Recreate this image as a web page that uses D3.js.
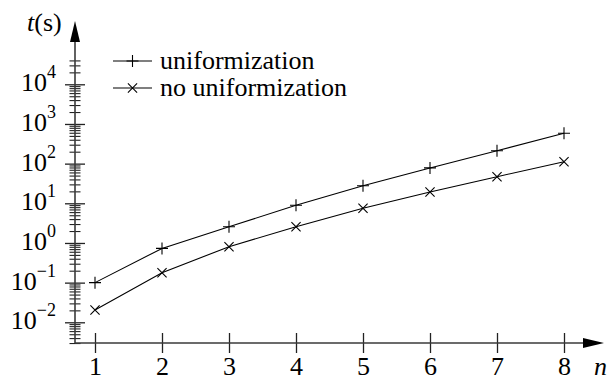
<!DOCTYPE html>
<html>
<head>
<meta charset="utf-8">
<script src="https://cdn.jsdelivr.net/npm/d3@7"></script>
<style>
  html, body { margin: 0; padding: 0; background: #fff; }
  svg { display: block; }
</style>
</head>
<body>
<svg id="chart" width="615" height="381"></svg>
<script>
// ---- data ----
const nValues = [1, 2, 3, 4, 5, 6, 7, 8];
const uniformization = [0.1, 0.73, 2.57, 8.9, 27.7, 78, 212, 581];
const noUniformization = [0.0204, 0.178, 0.805, 2.57, 7.5, 19.3, 46.8, 112];
const seriesNames = ["uniformization", "no uniformization"];
const yMajorExponents = [-2, -1, 0, 1, 2, 3, 4];
const xTickLabels = ["1", "2", "3", "4", "5", "6", "7", "8"];

// ---- layout ----
const FONT = "'Liberation Serif', 'Times New Roman', serif";
const svg = d3.select("#chart");
const axisX0 = 75, axisY0 = 343;
const x = d3.scaleLinear().domain([1, 8]).range([95, 564]);
const y = d3.scaleLog().domain([1e-2, 1e4]).range([322.3, 84.3]);
const axisColor = "#3a3a3a";

function txt(sel, size) {
  return sel.style("font-family", FONT).style("font-size", size + "px").attr("fill", "#000");
}

// minor tick values
const yMinor = [];
for (let k = -3; k <= 4; k++) {
  for (let m = 2; m <= 9; m++) {
    const v = m * Math.pow(10, k);
    if (v >= 0.003 && v <= 4.2e4) yMinor.push(v);
  }
}

// y axis: minor ticks
const gMinor = svg.append("g").attr("transform", `translate(${axisX0},0)`)
  .call(d3.axisLeft(y).tickValues(yMinor).tickFormat("").tickSizeOuter(0).tickSizeInner(5.5));
gMinor.select(".domain").remove();
gMinor.selectAll(".tick line").attr("x1", -5.5).attr("x2", 5.5)
  .attr("stroke", "#222").attr("stroke-width", 1.1);

// y axis: major ticks
const gMajor = svg.append("g").attr("transform", `translate(${axisX0},0)`)
  .call(d3.axisLeft(y).tickValues(yMajorExponents.map(e => Math.pow(10, e)))
    .tickFormat("").tickSizeOuter(0).tickSizeInner(10));
gMajor.select(".domain").remove();
gMajor.selectAll(".tick line").attr("x1", -10).attr("x2", 10)
  .attr("stroke", "#222").attr("stroke-width", 1.3);

// major labels with superscripts
const labG = svg.append("g");
yMajorExponents.forEach(e => {
  const t = txt(labG.append("text"), 26)
    .attr("x", 56).attr("y", y(Math.pow(10, e)) + 7)
    .attr("text-anchor", "end");
  t.append("tspan").text("10");
  t.append("tspan").attr("dy", -13).style("font-size", "18px")
    .text(e < 0 ? "\u2212" + Math.abs(e) : String(e));
});

// x axis ticks
const gX = svg.append("g").attr("transform", `translate(0,${axisY0})`)
  .call(d3.axisBottom(x).tickValues(nValues).tickFormat((d, i) => xTickLabels[i])
    .tickSizeOuter(0).tickSizeInner(10).tickPadding(0));
gX.select(".domain").remove();
gX.selectAll(".tick line").attr("y1", -10).attr("y2", 10)
  .attr("stroke", "#222").attr("stroke-width", 1.3);
txt(gX.selectAll(".tick text"), 26).attr("y", 32).attr("dy", null);

// axis lines with arrows
svg.append("line").attr("x1", axisX0).attr("x2", axisX0).attr("y1", axisY0).attr("y2", 40)
  .attr("stroke", axisColor).attr("stroke-width", 1.6);
svg.append("path").attr("d", `M${axisX0},21 L${axisX0 - 5},42 L${axisX0 + 5},42 Z`).attr("fill", "#000");
svg.append("line").attr("x1", axisX0).attr("x2", 585).attr("y1", axisY0).attr("y2", axisY0)
  .attr("stroke", axisColor).attr("stroke-width", 1.6);
svg.append("path").attr("d", `M604,${axisY0} L583,${axisY0 - 5} L583,${axisY0 + 5} Z`).attr("fill", "#000");

// axis titles
const tt = txt(svg.append("text"), 26).attr("x", 27).attr("y", 31);
tt.append("tspan").style("font-style", "italic").text("t");
tt.append("tspan").text("(s)");
txt(svg.append("text"), 26).attr("x", 594).attr("y", 375)
  .style("font-style", "italic").text("n");

// markers
function plus(g, cx, cy) {
  g.append("path").attr("d", `M${cx - 6},${cy}H${cx + 6}M${cx},${cy - 6}V${cy + 6}`)
    .attr("stroke", "#000").attr("stroke-width", 1.1).attr("fill", "none");
}
function cross(g, cx, cy) {
  const r = 4.6;
  g.append("path").attr("d", `M${cx - r},${cy - r}L${cx + r},${cy + r}M${cx - r},${cy + r}L${cx + r},${cy - r}`)
    .attr("stroke", "#000").attr("stroke-width", 1.1).attr("fill", "none");
}

const line = d3.line().x((d, i) => x(nValues[i])).y(d => y(d));
const series = [uniformization, noUniformization];
const markers = [plus, cross];
series.forEach((s, si) => {
  const g = svg.append("g");
  g.append("path").datum(s).attr("d", line).attr("fill", "none")
    .attr("stroke", "#000").attr("stroke-width", 1.1);
  s.forEach((v, i) => markers[si](g, x(nValues[i]), y(v)));
});

// legend
const legY = [61, 88];
seriesNames.forEach((name, i) => {
  const g = svg.append("g");
  g.append("line").attr("x1", 113).attr("x2", 152).attr("y1", legY[i]).attr("y2", legY[i])
    .attr("stroke", "#000").attr("stroke-width", 1.1);
  markers[i](g, 132.5, legY[i]);
  txt(g.append("text"), 26).attr("x", 160).attr("y", legY[i] + 8).text(name);
});
</script>
</body>
</html>
